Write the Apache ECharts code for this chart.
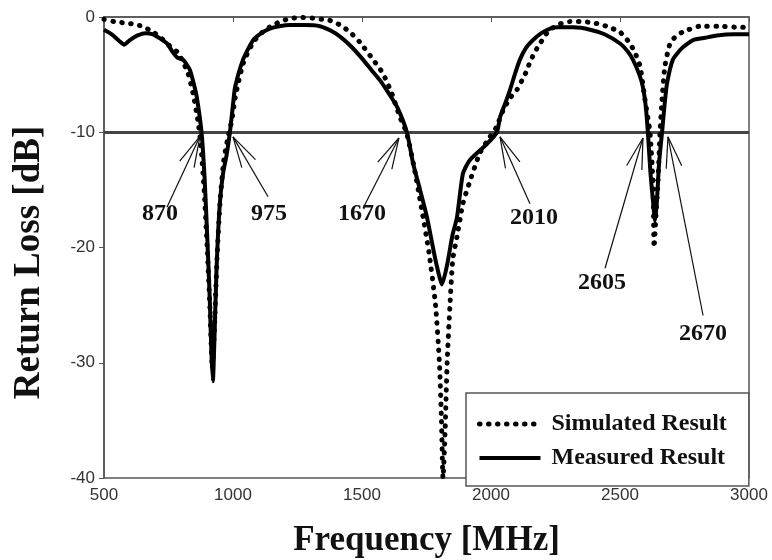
<!DOCTYPE html>
<html>
<head>
<meta charset="utf-8">
<script src="https://cdn.jsdelivr.net/npm/echarts@6/dist/echarts.min.js"></script>
<style>html,body{margin:0;padding:0;background:#fff;}#c{width:772px;height:560px;}</style>
</head>
<body>
<div id="c"></div>
<script>
// ---- data ----
var xTicks = [500, 1000, 1500, 2000, 2500, 3000];
var yTicks = [0, -10, -20, -30, -40];
var seriesNames = ['Simulated Result', 'Measured Result'];

var simulatedFreq = [500,540,574,610,647,690,720,744,765,787,806,826,845,864,875,888,900,910,920,928,938,950,964,980,995,1010,1040,1078,1115,1155,1195,1233,1270,1310,1345,1376,1415,1453,1492,1543,1581,1615,1647,1672,1700,1730,1760,1785,1800,1808,1814,1822,1830,1841,1852,1868,1891,1919,1957,1996,2020,2047,2075,2101,2120,2140,2151,2171,2190,2220,2256,2306,2350,2395,2434,2470,2500,2539,2560,2578,2597,2616,2628,2632,2640,2647,2655,2663,2674,2694,2720,2744,2810,2880,2965,3000];
var simulatedDb = [-0.2,-0.4,-0.5,-0.6,-0.8,-1.3,-1.8,-2.3,-2.7,-3.1,-3.9,-4.9,-6.6,-9.0,-11,-15,-20,-25,-30.5,-27,-21,-16,-12.5,-10.5,-9,-6.8,-4.0,-2.2,-1.3,-0.7,-0.3,-0.1,-0.05,-0.1,-0.2,-0.3,-0.7,-1.3,-2.2,-3.7,-4.9,-6.6,-8.7,-10,-12.8,-16.5,-20.5,-25,-30,-35,-40,-36,-30,-25,-21,-19.1,-16.2,-14.2,-11.8,-10.4,-9.6,-8.1,-7.0,-6.3,-5.5,-4.6,-3.9,-3.0,-2.3,-1.3,-0.7,-0.4,-0.4,-0.5,-0.7,-1.0,-1.3,-2.3,-3.2,-4.3,-7.2,-10,-14.4,-20.0,-17,-14.4,-10,-7.2,-4.3,-2.3,-1.6,-1.3,-0.8,-0.8,-0.9,-0.9];

var measuredFreq = [500,530,560,578,600,630,660,690,720,744,765,783,806,820,833,848,860,878,890,900,910,916,922,928,936,948,962,975,988,1000,1008,1039,1078,1110,1143,1180,1221,1280,1337,1380,1415,1460,1504,1540,1570,1600,1636,1674,1698,1725,1752,1775,1791,1810,1830,1850,1868,1891,1915,1946,1985,2023,2035,2055,2074,2092,2112,2135,2163,2195,2229,2260,2320,2384,2440,2500,2530,2550,2575,2589,2600,2608,2618,2630,2636,2643,2652,2663,2672,2682,2705,2740,2783,2830,2876,2940,3000];
var measuredDb = [-1.1,-1.5,-2.1,-2.4,-2.0,-1.6,-1.4,-1.5,-1.9,-2.3,-3.0,-3.5,-3.7,-4.1,-4.6,-5.8,-7.0,-10.0,-14,-19,-24.5,-29,-31.6,-28,-22,-16.5,-13.5,-12.0,-10,-7.6,-6.1,-3.7,-2.0,-1.4,-1.0,-0.8,-0.7,-0.7,-0.8,-1.2,-1.7,-2.6,-3.7,-4.7,-5.5,-6.5,-7.8,-10,-12.7,-15,-17.4,-20,-21.7,-23.2,-21.5,-19,-17.4,-13.6,-12.5,-11.8,-11,-10,-8.7,-7.5,-6.3,-5,-3.7,-2.7,-2.0,-1.4,-1.0,-0.9,-0.9,-1.1,-1.5,-2.3,-3.0,-3.7,-5.0,-6.1,-7.8,-10,-13.5,-16.5,-17.7,-16,-12.5,-10,-7.8,-5.8,-3.7,-2.7,-2.0,-1.8,-1.6,-1.5,-1.5];

var thresholdDb = -10;

// annotations: label text, arrow tip (freq, dB), arrow tail (freq, dB), label anchor (freq, dB)
var annLabels = ['870', '975', '1670', '2010', '2605', '2670'];
var annTipFreq = [872, 1000, 1643, 2035, 2589, 2686];
var annTipDb = [-10.35, -10.4, -10.5, -10.4, -10.5, -10.4];
var annTailFreq = [744, 1136, 1504, 2151, 2442, 2822];
var annTailDb = [-16.5, -15.6, -16.6, -16.2, -21.8, -25.9];
var annLabelFreq = [717, 1140, 1500, 2167, 2430, 2822];
var annLabelDb = [-17.1, -17.1, -17.1, -17.4, -23.1, -27.5];

// ---- build ----
function zip(a, b) { return a.map(function (v, i) { return [v, b[i]]; }); }
var annData = annLabels.map(function (t, i) {
  return [annTipFreq[i], annTipDb[i], annTailFreq[i], annTailDb[i], annLabelFreq[i], annLabelDb[i]];
});

var serif = '"Liberation Serif","Times New Roman",serif';
var sans = '"Liberation Sans",Arial,sans-serif';
var simStyle = { color: '#000', width: 5, type: [0.5, 8.5], cap: 'round' };
var meaStyle = { color: '#000', width: 4, type: 'solid' };

var chart = echarts.init(document.getElementById('c'), null, { renderer: 'canvas' });
chart.setOption({
  animation: false,
  backgroundColor: '#fff',
  grid: { left: 104, right: 23, top: 17, bottom: 82, outerBoundsMode: 'none', containLabel: false, show: true, borderColor: '#555', borderWidth: 1.5, backgroundColor: 'transparent' },
  xAxis: {
    type: 'value', min: xTicks[0], max: xTicks[xTicks.length - 1], interval: 500,
    name: 'Frequency [MHz]', nameLocation: 'middle', nameGap: 45,
    nameTextStyle: { fontFamily: serif, fontWeight: 'bold', fontSize: 35, color: '#111' },
    axisLine: { show: true, lineStyle: { color: '#555', width: 1.5 } },
    axisTick: { show: true, inside: false, length: 5, lineStyle: { color: '#555' } },
    axisLabel: { fontFamily: sans, fontSize: 17, color: '#333', margin: 9, formatter: function (v) { return String(v); } },
    splitLine: { show: false }
  },
  yAxis: {
    type: 'value', min: yTicks[yTicks.length - 1], max: yTicks[0], interval: 10,
    name: 'Return Loss [dB]', nameLocation: 'middle', nameGap: 56,
    nameTextStyle: { fontFamily: serif, fontWeight: 'bold', fontSize: 37, color: '#111', padding: [0, 30, 0, 0] },
    axisLine: { show: true, lineStyle: { color: '#555', width: 1.5 } },
    axisTick: { show: true, inside: false, length: 5, lineStyle: { color: '#555' } },
    axisLabel: { fontFamily: sans, fontSize: 17, color: '#333', margin: 9, formatter: function (v) { return String(v); } },
    splitLine: { show: false }
  },
  legend: {
    data: [
      { name: seriesNames[0], itemStyle: { opacity: 0 }, lineStyle: simStyle },
      { name: seriesNames[1], itemStyle: { opacity: 0 }, lineStyle: meaStyle }
    ],
    orient: 'vertical', left: 466, top: 393,
    padding: [19, 22, 16, 11],
    itemWidth: 61, itemHeight: 20, itemGap: 10,
    itemStyle: { opacity: 0 },
    backgroundColor: '#fff', borderColor: '#555', borderWidth: 1.5, borderRadius: 0,
    textStyle: { fontFamily: serif, fontWeight: 'bold', fontSize: 24, color: '#111', lineHeight: 20, padding: [0, 0, 0, 6] }
  },
  series: [
    {
      name: seriesNames[0], type: 'line', data: zip(simulatedFreq, simulatedDb),
      symbol: 'none', smooth: 0.2, z: 3,
      lineStyle: simStyle,
      itemStyle: { color: '#000' }
    },
    {
      name: seriesNames[1], type: 'line', data: zip(measuredFreq, measuredDb),
      symbol: 'none', smooth: 0.2, z: 4,
      lineStyle: meaStyle,
      itemStyle: { color: '#000' },
      markLine: {
        silent: true, symbol: 'none', label: { show: false }, z: 2,
        lineStyle: { color: '#444', width: 3, type: 'solid' },
        data: [{ yAxis: thresholdDb }]
      }
    },
    {
      name: 'annotations', type: 'custom', data: annData, clip: false, z: 5,
      encode: { x: [0, 2, 4], y: [1, 3, 5] },
      renderItem: function (params, api) {
        var tip = api.coord([api.value(0), api.value(1)]);
        var tail = api.coord([api.value(2), api.value(3)]);
        var lab = api.coord([api.value(4), api.value(5)]);
        var ang = Math.atan2(tail[1] - tip[1], tail[0] - tip[0]);
        var hl = 32, ha = 0.25;
        var h1 = [tip[0] + hl * Math.cos(ang + ha), tip[1] + hl * Math.sin(ang + ha)];
        var h2 = [tip[0] + hl * Math.cos(ang - ha), tip[1] + hl * Math.sin(ang - ha)];
        var ls = { stroke: '#111', lineWidth: 1.2 };
        return {
          type: 'group',
          children: [
            { type: 'line', shape: { x1: tip[0], y1: tip[1], x2: tail[0], y2: tail[1] }, style: ls },
            { type: 'line', shape: { x1: tip[0], y1: tip[1], x2: h1[0], y2: h1[1] }, style: ls },
            { type: 'line', shape: { x1: tip[0], y1: tip[1], x2: h2[0], y2: h2[1] }, style: ls },
            { type: 'text', x: lab[0], y: lab[1], style: { text: annLabels[params.dataIndex], fontFamily: serif, fontWeight: 'bold', fontSize: 24, fill: '#111', align: 'center', verticalAlign: 'middle' } }
          ]
        };
      }
    }
  ]
});
</script>
</body>
</html>
